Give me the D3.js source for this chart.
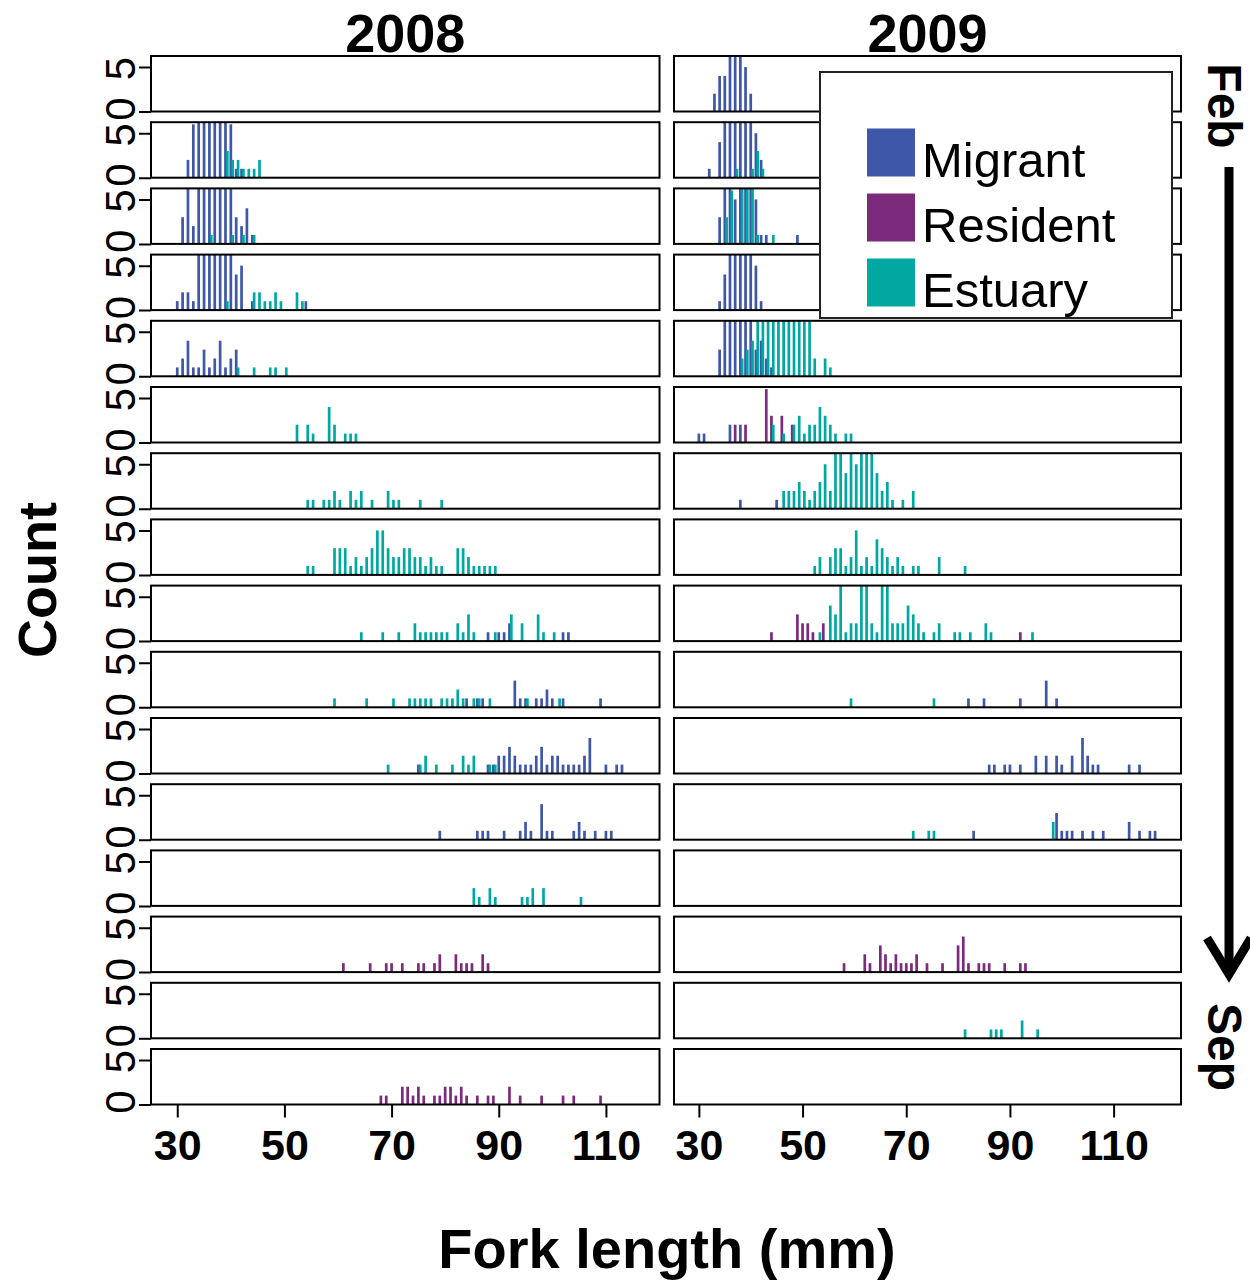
<!DOCTYPE html>
<html>
<head>
<meta charset="utf-8">
<script src="https://cdn.jsdelivr.net/npm/d3@7"></script>
<style>
  body { margin: 0; background: #fff; }
  text { font-family: "Liberation Sans", Arial, sans-serif; }
</style>
</head>
<body>
<script>
const width = 1250;
const height = 1284;

const years = ["2008", "2009"];
const groups = ["Migrant", "Resident", "Estuary"];
const groupColors = ["#3f57a9", "#7b2a7c", "#00a8a2"];
const xTicks = [30, 50, 70, 90, 110];
const yTicks = [0, 50];
const monthLabels = ["Feb", "Sep"];

// [row (0 = Feb ... 15 = Sep), fork length (mm), count]
const migrant2008 = [
  [1,32,20],[1,33,60],[1,34,70],[1,35,70],[1,36,70],[1,37,70],[1,38,70],[1,39,70],[1,40,60],[1,41,10],[1,42,10],
  [2,31,30],[2,32,70],[2,33,20],[2,34,70],[2,35,70],[2,36,70],[2,37,70],[2,38,70],[2,39,70],[2,40,70],[2,41,30],[2,42,20],[2,43,40],[2,44,10],
  [3,30,10],[3,31,20],[3,32,20],[3,33,10],[3,34,70],[3,35,70],[3,36,70],[3,37,70],[3,38,70],[3,39,70],[3,40,70],[3,41,40],[3,42,50],[3,44,10],[3,54,10],
  [4,30,10],[4,31,20],[4,32,40],[4,33,10],[4,34,10],[4,35,30],[4,36,10],[4,37,20],[4,38,40],[4,39,10],[4,40,20],[4,41,30],
  [8,88,10],[8,90,10],[8,91,10],[8,92,20],[8,102,10],[8,103,10],
  [9,84,10],[9,86,10],[9,87,10],[9,93,30],[9,94,10],[9,95,10],[9,97,10],[9,98,10],[9,99,20],[9,100,10],[9,102,10],[9,109,10],
  [10,75,10],[10,88,10],[10,89,10],[10,90,20],[10,91,20],[10,92,30],[10,93,20],[10,94,10],[10,95,10],[10,96,10],[10,97,20],[10,98,30],
  [10,99,10],[10,100,20],[10,101,20],[10,102,10],[10,103,10],[10,104,10],[10,105,10],[10,106,20],[10,107,40],[10,110,10],[10,112,10],[10,113,10],
  [11,79,10],[11,86,10],[11,87,10],[11,88,10],[11,91,10],[11,94,10],[11,95,20],[11,96,10],[11,98,40],[11,99,10],[11,100,10],
  [11,104,10],[11,105,20],[11,106,10],[11,108,10],[11,110,10],[11,111,10]
];
const resident2008 = [
  [13,61,10],[13,66,10],[13,69,10],[13,70,10],[13,72,10],[13,75,10],[13,76,10],[13,78,10],[13,79,20],[13,82,20],[13,83,10],[13,84,10],[13,85,10],[13,87,20],[13,88,10],
  [15,68,10],[15,69,10],[15,72,20],[15,73,20],[15,74,10],[15,75,20],[15,76,10],[15,78,10],[15,79,10],[15,80,20],[15,81,20],[15,82,10],
  [15,83,20],[15,84,10],[15,86,10],[15,88,10],[15,89,10],[15,92,20],[15,94,10],[15,98,10],[15,102,10],[15,104,10],[15,109,10]
];
const estuary2008 = [
  [1,39,30],[1,40,20],[1,41,20],[1,42,10],[1,43,10],[1,44,10],[1,45,20],
  [2,36,10],[2,40,10],[2,42,10],[2,44,10],
  [3,39,10],[3,44,20],[3,45,20],[3,46,10],[3,47,10],[3,48,20],[3,49,10],[3,52,20],[3,53,10],
  [4,41,10],[4,44,10],[4,47,10],[4,48,10],[4,50,10],
  [5,52,20],[5,54,20],[5,55,10],[5,58,40],[5,59,20],[5,61,10],[5,62,10],[5,63,10],
  [6,54,10],[6,55,10],[6,57,10],[6,58,10],[6,59,20],[6,60,10],[6,62,20],[6,63,10],[6,64,20],[6,66,10],[6,69,20],[6,70,10],[6,71,10],[6,75,10],[6,79,10],
  [7,54,10],[7,55,10],[7,59,30],[7,60,30],[7,61,30],[7,62,10],[7,63,20],[7,64,10],[7,65,20],[7,66,30],[7,67,50],[7,68,50],[7,69,30],[7,70,20],
  [7,71,20],[7,72,30],[7,73,30],[7,74,20],[7,75,20],[7,76,10],[7,77,20],[7,78,10],[7,79,10],[7,82,30],[7,83,30],[7,84,20],[7,85,10],[7,86,10],[7,87,10],[7,88,10],[7,89,10],
  [8,64,10],[8,68,10],[8,71,10],[8,74,20],[8,75,10],[8,76,10],[8,77,10],[8,78,10],[8,79,10],[8,80,10],[8,82,20],[8,83,10],[8,84,30],[8,85,10],
  [8,89,10],[8,92,30],[8,94,20],[8,97,30],[8,98,10],[8,100,10],
  [9,59,10],[9,65,10],[9,70,10],[9,73,10],[9,74,10],[9,75,10],[9,76,10],[9,77,10],[9,79,10],[9,80,10],[9,81,10],[9,82,20],[9,83,10],[9,85,10],[9,86,10],[9,88,10],[9,95,10],[9,101,10],
  [10,69,10],[10,75,10],[10,76,20],[10,78,10],[10,81,10],[10,83,20],[10,84,10],[10,85,20],[10,88,10],[10,89,10],
  [12,85,20],[12,86,10],[12,88,20],[12,89,10],[12,94,10],[12,95,10],[12,96,20],[12,98,20],[12,105,10]
];

const migrant2009 = [
  [0,33,20],[0,34,40],[0,35,40],[0,36,70],[0,37,70],[0,38,70],[0,39,50],[0,40,20],
  [1,32,10],[1,34,40],[1,35,70],[1,36,70],[1,37,70],[1,38,70],[1,39,70],[1,40,70],[1,41,50],[1,42,20],
  [2,34,30],[2,35,70],[2,36,70],[2,37,50],[2,38,70],[2,39,70],[2,40,70],[2,41,50],[2,42,10],[2,43,10],[2,49,10],
  [3,34,10],[3,35,40],[3,36,70],[3,37,70],[3,38,70],[3,39,70],[3,40,70],[3,41,50],[3,42,10],
  [4,34,30],[4,35,70],[4,36,70],[4,37,70],[4,38,70],[4,39,70],[4,40,70],[4,41,30],[4,42,40],[4,43,20],[4,44,10],
  [5,30,10],[5,31,10],[5,36,20],[5,38,20],
  [6,38,10],[6,45,10],
  [9,82,10],[9,85,10],[9,92,10],[9,97,30],[9,99,10],
  [10,86,10],[10,87,10],[10,89,10],[10,90,10],[10,92,10],[10,95,20],[10,97,20],[10,99,20],[10,100,10],[10,102,20],[10,104,40],[10,105,20],[10,106,10],[10,107,10],[10,113,10],[10,115,10],
  [11,83,10],[11,99,30],[11,100,10],[11,101,10],[11,102,10],[11,104,10],[11,106,10],[11,108,10],[11,113,20],[11,115,10],[11,117,10],[11,118,10]
];
const resident2009 = [
  [5,37,20],[5,39,20],[5,43,60],[5,44,30],[5,46,30],[5,48,20],
  [8,44,10],[8,49,30],[8,50,20],[8,51,20],[8,52,10],[8,54,20],[8,92,10],
  [13,58,10],[13,62,20],[13,63,10],[13,65,30],[13,66,20],[13,67,10],[13,68,20],[13,69,10],[13,70,10],[13,71,10],[13,72,20],[13,74,10],
  [13,77,10],[13,80,30],[13,81,40],[13,82,10],[13,84,10],[13,85,10],[13,86,10],[13,89,10],[13,92,10],[13,93,10]
];
const estuary2009 = [
  [1,37,10],[1,40,10],[1,41,30],[1,42,10],
  [2,35,30],[2,36,60],[2,38,70],[2,39,70],[2,40,70],[2,41,10],[2,44,10],
  [4,38,20],[4,39,30],[4,40,40],[4,41,70],[4,42,70],[4,43,70],[4,44,70],[4,45,70],[4,46,70],[4,47,70],[4,48,70],[4,49,70],[4,50,70],[4,51,70],[4,52,20],[4,54,20],[4,55,10],
  [5,44,20],[5,46,10],[5,48,20],[5,49,30],[5,50,10],[5,51,20],[5,52,20],[5,53,40],[5,54,30],[5,55,20],[5,56,10],[5,58,10],[5,59,10],
  [6,46,20],[6,47,20],[6,48,20],[6,49,30],[6,50,20],[6,51,10],[6,52,20],[6,53,30],[6,54,50],[6,55,20],[6,56,70],[6,57,70],[6,58,40],
  [6,59,70],[6,60,50],[6,61,70],[6,62,70],[6,63,70],[6,64,40],[6,65,20],[6,66,30],[6,67,10],[6,69,10],[6,71,20],
  [7,52,10],[7,53,20],[7,55,20],[7,56,30],[7,57,30],[7,58,10],[7,59,20],[7,60,50],[7,61,10],[7,62,20],[7,63,10],[7,64,40],[7,65,30],
  [7,66,20],[7,67,10],[7,68,20],[7,69,10],[7,71,10],[7,72,10],[7,76,20],[7,81,10],
  [8,53,10],[8,55,40],[8,56,30],[8,57,70],[8,58,10],[8,59,20],[8,60,20],[8,61,70],[8,62,70],[8,63,20],[8,64,10],[8,65,70],[8,66,70],
  [8,67,20],[8,68,20],[8,69,20],[8,70,40],[8,71,30],[8,72,20],[8,73,10],[8,75,10],[8,76,20],[8,79,10],[8,80,10],[8,82,10],[8,85,20],[8,86,10],[8,94,10],
  [9,59,10],[9,75,10],
  [11,71,10],[11,74,10],[11,75,10],[11,98,20],
  [14,81,10],[14,86,10],[14,87,10],[14,88,10],[14,92,20],[14,95,10]
];

const seriesByYear = [
  [migrant2008, resident2008, estuary2008],
  [migrant2009, resident2009, estuary2009]
];

const svg = d3.select("body")
  .append("svg")
  .attr("width", width)
  .attr("height", height);

const nRows = 16;
const rowTop = 56;
const rowStep = 66.2;
const panelH = 55.5;
const barW = 2.7;
const groupOffset = [0, 0, 0.35];
const cols = [
  {x0: 151, x1: 659.5, domain: [25.1, 120]},
  {x0: 674, x1: 1181, domain: [25.2, 123]}
];

const yScale = d3.scaleLinear().domain([0, 62.4]).range([panelH, 0]);

years.forEach((year, ci) => {
  const col = cols[ci];
  const xScale = d3.scaleLinear().domain(col.domain).range([0, col.x1 - col.x0]);

  svg.append("text")
    .attr("x", (col.x0 + col.x1) / 2)
    .attr("y", 52)
    .attr("text-anchor", "middle")
    .style("font-weight", "bold")
    .style("font-size", "54px")
    .text(year);

  for (let r = 0; r < nRows; r++) {
    const top = rowTop + r * rowStep;
    const g = svg.append("g")
      .attr("transform", "translate(" + col.x0 + "," + top + ")");

    const clipId = "clip-" + ci + "-" + r;
    g.append("clipPath").attr("id", clipId)
      .append("rect")
      .attr("width", col.x1 - col.x0)
      .attr("height", panelH);

    const plot = g.append("g").attr("clip-path", "url(#" + clipId + ")");

    seriesByYear[ci].forEach((series, gi) => {
      plot.selectAll(".bar" + gi)
        .data(series.filter(d => d[0] === r))
        .enter().append("rect")
        .attr("x", d => xScale(d[1] + groupOffset[gi]) - barW / 2)
        .attr("y", d => yScale(d[2]))
        .attr("width", barW)
        .attr("height", d => panelH - yScale(d[2]))
        .attr("fill", groupColors[gi]);
    });

    g.append("rect")
      .attr("width", col.x1 - col.x0)
      .attr("height", panelH)
      .attr("fill", "none")
      .attr("stroke", "#000")
      .attr("stroke-width", 2);

    if (ci === 0) {
      // labels are clipped to the panel's own strip, as in the original
      const labId = "ylab-" + r;
      g.append("clipPath").attr("id", labId)
        .append("rect")
        .attr("x", -col.x0)
        .attr("y", 0)
        .attr("width", col.x0)
        .attr("height", r === nRows - 1 ? 80 : rowStep);

      const ax = g.append("g")
        .attr("clip-path", "url(#" + labId + ")")
        .call(d3.axisLeft(yScale).tickValues(yTicks).tickSize(12));
      ax.select(".domain").remove();
      ax.selectAll("line").attr("stroke", "#000").attr("stroke-width", 2);
      ax.selectAll("text")
        .attr("x", null).attr("dy", null)
        .attr("fill", "#000")
        .attr("text-anchor", "middle")
        .style("font-size", "42px")
        .attr("transform", d => d === 0 ? "translate(-16.5,-3) rotate(-90)" : "translate(-16.5,-10.7) rotate(-90)");
    }

    if (r === nRows - 1) {
      const xa = g.append("g")
        .attr("transform", "translate(0," + panelH + ")")
        .call(d3.axisBottom(xScale).tickValues(xTicks).tickSize(13).tickPadding(12));
      xa.select(".domain").remove();
      xa.selectAll("line").attr("stroke", "#000").attr("stroke-width", 2);
      xa.selectAll("text")
        .attr("fill", "#000")
        .style("font-weight", "bold")
        .style("font-size", "43px");
    }
  }
});

// legend
const legend = svg.append("g");
legend.append("rect")
  .attr("x", 820).attr("y", 72)
  .attr("width", 352).attr("height", 246)
  .attr("fill", "#fff")
  .attr("stroke", "#222")
  .attr("stroke-width", 2);
groups.forEach((name, i) => {
  legend.append("rect")
    .attr("x", 867).attr("y", 128.5 + i * 65)
    .attr("width", 48).attr("height", 48)
    .attr("fill", groupColors[i]);
  legend.append("text")
    .attr("x", 922).attr("y", 176.5 + i * 65)
    .style("font-size", "49px")
    .text(name);
});

// axis titles
svg.append("text")
  .attr("transform", "translate(56,580) rotate(-90)")
  .attr("text-anchor", "middle")
  .style("font-weight", "bold")
  .style("font-size", "54px")
  .text("Count");

svg.append("text")
  .attr("x", 667)
  .attr("y", 1268)
  .attr("text-anchor", "middle")
  .style("font-weight", "bold")
  .style("font-size", "56px")
  .text("Fork length (mm)");

// time arrow
svg.append("text")
  .attr("transform", "translate(1208,106) rotate(90)")
  .attr("text-anchor", "middle")
  .style("font-weight", "bold")
  .style("font-size", "48px")
  .text(monthLabels[0]);

svg.append("text")
  .attr("transform", "translate(1208,1047) rotate(90)")
  .attr("text-anchor", "middle")
  .style("font-weight", "bold")
  .style("font-size", "48px")
  .text(monthLabels[1]);

svg.append("line")
  .attr("x1", 1229).attr("x2", 1229)
  .attr("y1", 167).attr("y2", 972)
  .attr("stroke", "#000")
  .attr("stroke-width", 9);

svg.append("path")
  .attr("d", "M1207,938 L1229,974 L1251,938")
  .attr("fill", "none")
  .attr("stroke", "#000")
  .attr("stroke-width", 9)
  .attr("stroke-linejoin", "miter");
</script>
</body>
</html>
